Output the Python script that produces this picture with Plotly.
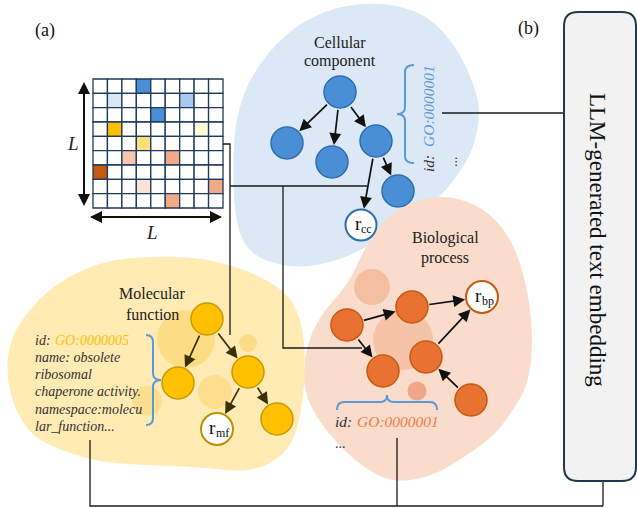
import plotly.graph_objects as go

# ---------------- data ----------------
GRID_N = 9
grid_colors = {  # (row, col): colour
    (0, 3): "#4A8FD6",
    (1, 1): "#DAE8F6", (1, 6): "#A8C8EC",
    (2, 4): "#4A8FD6",
    (3, 1): "#FFC000", (3, 7): "#FDFCD9",
    (4, 3): "#FFDF7A",
    (5, 2): "#F6C7AE", (5, 5): "#F1AA85",
    (6, 0): "#C55A11",
    (7, 3): "#FDE3D5", (7, 8): "#F1AA85",
    (8, 5): "#F1AA85",
}
grid_box = (93, 79, 223, 208)

blue_blob = [(330, 9), (363, 3), (397, 5), (430, 17), (457, 48), (473, 82), (481, 112),
             (473, 150), (457, 177), (437, 200), (410, 216), (388, 233), (362, 250),
             (333, 262), (300, 268), (266, 262), (243, 246), (234, 210), (233, 160),
             (236, 118), (248, 82), (270, 50), (297, 25)]
orange_blob = [(420, 198), (455, 196), (490, 212), (515, 245), (529, 295), (533, 345),
               (528, 385), (512, 412), (493, 437), (460, 460), (430, 477), (392, 483),
               (360, 465), (337, 443), (318, 420), (303, 390), (305, 350), (320, 315),
               (348, 285), (366, 245), (388, 215)]
yellow_blob = [(120, 258), (185, 256), (235, 265), (283, 288), (302, 318), (306, 370),
               (300, 420), (290, 448), (268, 466), (240, 472), (200, 467), (143, 465),
               (100, 462), (65, 452), (33, 437), (15, 410), (6, 375), (10, 340),
               (25, 315), (50, 288), (85, 268)]

# nodes: name -> (x, y, r)
cc_nodes = {"cc0": (340, 92, 16), "cc1": (287, 143, 16), "cc2": (332, 162, 16),
            "cc3": (376, 141, 16), "cc4": (398, 191, 16), "rcc": (361, 225, 15.5)}
mf_nodes = {"mf0": (207, 319, 16), "mf1": (178, 383, 16), "mf2": (248, 372, 16),
            "mf3": (277, 419, 16), "rmf": (217, 429, 16)}
bp_nodes = {"bpA": (347, 325, 16), "bpB": (412, 307, 16), "rbp": (482, 297, 16),
            "bpC": (426, 357, 16), "bpD": (383, 371, 16), "bpE": (471, 400, 16)}
cc_edges = [("cc0", "cc1"), ("cc0", "cc2"), ("cc0", "cc3"), ("cc3", "cc4"), ("cc3", "rcc")]
mf_edges = [("mf0", "mf1"), ("mf0", "mf2"), ("mf2", "rmf"), ("mf2", "mf3")]
bp_edges = [("bpA", "bpB"), ("bpB", "rbp"), ("bpA", "bpD"), ("bpC", "rbp"), ("bpE", "bpC")]

mf_bubbles = [(186, 339, 29, "#FDDC86"), (248, 343, 9, "#FDDC86"),
              (215, 392, 17, "#FDDE8E"), (147, 401, 15, "#FDDE8E")]
bp_bubbles = [(372, 287, 18, "#F4BEA2"), (403, 340, 30, "#F5C3A8"), (417, 391, 9.5, "#F0A788")]

mf_text_lines = ["name: obsolete", "ribosomal", "chaperone activity.", "namespace:molecu", "lar_function..."]
root_labels = {"rcc": ("cc", 17), "rmf": ("mf", 19.5), "rbp": ("bp", 18)}

SERIF = "Liberation Serif, Times New Roman, serif"

# ---------------- helpers ----------------
def smooth_path(pts):
    n = len(pts)
    mids = [((pts[i][0] + pts[(i + 1) % n][0]) / 2, (pts[i][1] + pts[(i + 1) % n][1]) / 2) for i in range(n)]
    d = f"M {mids[-1][0]},{mids[-1][1]}"
    for i in range(n):
        d += f" Q {pts[i][0]},{pts[i][1]} {mids[i][0]},{mids[i][1]}"
    return d + " Z"

shapes = []
annotations = []

def circle(x, y, r, fill, line_color=None, lw=1.5):
    shapes.append(dict(type="circle", xref="x", yref="y", x0=x - r, x1=x + r, y0=y - r, y1=y + r,
                       fillcolor=fill, line=dict(color=line_color or fill, width=lw if line_color else 0)))

def seg(pts, color="#1a1a1a", w=1.3):
    d = "M " + " L ".join(f"{x},{y}" for x, y in pts)
    shapes.append(dict(type="path", xref="x", yref="y", path=d, line=dict(color=color, width=w)))

def arrow(x, y, ax, ay, color, size=1.4, width=1.7, standoff=0, startstandoff=0):
    annotations.append(dict(x=x, y=y, ax=ax, ay=ay, xref="x", yref="y", axref="x", ayref="y",
                            text=" ", showarrow=True, arrowhead=2, arrowsize=size, arrowwidth=width,
                            arrowcolor=color, standoff=standoff, startstandoff=startstandoff,
                            font=dict(size=1)))

def arrows(nodes, edges, color):
    for a, b in edges:
        xa, ya, ra = nodes[a]
        xb, yb, rb = nodes[b]
        arrow(xb, yb, xa, ya, color, standoff=rb + 1, startstandoff=ra)

def text(x, y, s, size=16, color="#222", angle=0, xanchor="center", italic=False):
    if italic:
        s = f"<i>{s}</i>"
    annotations.append(dict(x=x, y=y, xref="x", yref="y", text=s, showarrow=False, textangle=angle,
                            xanchor=xanchor, yanchor="middle",
                            font=dict(family=SERIF, size=size, color=color)))

# ---------------- blobs ----------------
shapes.append(dict(type="path", xref="x", yref="y", path=smooth_path(blue_blob),
                   fillcolor="#DCE8F5", line=dict(width=0)))
shapes.append(dict(type="path", xref="x", yref="y", path=smooth_path(orange_blob),
                   fillcolor="#F9DCCB", line=dict(width=0)))
shapes.append(dict(type="path", xref="x", yref="y", path=smooth_path(yellow_blob),
                   fillcolor="#FFEBB3", line=dict(width=0)))

for x, y, r, c in mf_bubbles + bp_bubbles:
    circle(x, y, r, c)

# ---------------- grid ----------------
gx0, gy0, gx1, gy1 = grid_box
cw = (gx1 - gx0) / GRID_N
ch = (gy1 - gy0) / GRID_N
for i in range(GRID_N):
    for j in range(GRID_N):
        shapes.append(dict(type="rect", xref="x", yref="y",
                           x0=gx0 + j * cw, x1=gx0 + (j + 1) * cw, y0=gy0 + i * ch, y1=gy0 + (i + 1) * ch,
                           fillcolor=grid_colors.get((i, j), "#FFFFFF"),
                           line=dict(color="#1F3A5C", width=1.3)))

# L arrows (double headed)
arrow(84, 82, 84, 206, "#111", size=1.2, width=2)
arrow(84, 206, 84, 82, "#111", size=1.2, width=2)
arrow(90, 217, 222, 217, "#111", size=1.2, width=2)
arrow(222, 217, 90, 217, "#111", size=1.2, width=2)
text(73, 143, "L", size=19, italic=True)
text(152, 232, "L", size=19, italic=True)

# ---------------- connector lines ----------------
seg([(223, 144), (230, 144), (230, 335)])
seg([(230, 186), (367, 186)])
seg([(283, 186), (283, 348), (362, 348)])
seg([(442, 113), (564, 113)])
seg([(90, 440), (90, 506), (603, 506)])
seg([(397, 438), (397, 506)])
seg([(603, 481), (603, 506)])

# ---------------- braces ----------------
brace_col = "#5B9BD5"
shapes.append(dict(type="path", xref="x", yref="y", line=dict(color=brace_col, width=2),
                   path="M 146,335 Q 153,335 153,342 L 153,373 Q 153,380 161,380 Q 153,380 153,387 "
                        "L 153,418 Q 153,425 146,425"))
shapes.append(dict(type="path", xref="x", yref="y", line=dict(color=brace_col, width=2),
                   path="M 414,65 Q 405,65 405,72 L 405,107 Q 405,114 397,114 Q 405,114 405,121 "
                        "L 405,156 Q 405,163 414,163"))
shapes.append(dict(type="path", xref="x", yref="y", line=dict(color=brace_col, width=2),
                   path="M 337,410 Q 337,402 344,402 L 380,402 Q 387,402 387,395 Q 387,402 394,402 "
                        "L 430,402 Q 437,402 437,410"))

# ---------------- LLM box ----------------
bx0, by0, bx1, by1, br = 564, 12, 636, 481, 14
shapes.append(dict(type="path", xref="x", yref="y", fillcolor="#F2F2F2",
                   line=dict(color="#1F3A4A", width=2),
                   path=f"M {bx0+br},{by0} L {bx1-br},{by0} Q {bx1},{by0} {bx1},{by0+br} L {bx1},{by1-br} "
                        f"Q {bx1},{by1} {bx1-br},{by1} L {bx0+br},{by1} Q {bx0},{by1} {bx0},{by1-br} "
                        f"L {bx0},{by0+br} Q {bx0},{by0} {bx0+br},{by0} Z"))
text(598, 240, "LLM-generated text embedding", size=23, angle=90, color="#111")

# ---------------- nodes ----------------
for k, (x, y, r) in cc_nodes.items():
    if k.startswith("r"):
        circle(x, y, r, "#FFFFFF", "#2E6DB0", 2)
    else:
        circle(x, y, r, "#4A8FD6", "#2E6DB0", 1.5)
for k, (x, y, r) in mf_nodes.items():
    if k.startswith("r"):
        circle(x, y, r, "#FFFFFF", "#BF9000", 2)
    else:
        circle(x, y, r, "#FFC000", "#C99A06", 1.5)
for k, (x, y, r) in bp_nodes.items():
    if k.startswith("r"):
        circle(x, y, r, "#FFFFFF", "#C55A11", 2)
    else:
        circle(x, y, r, "#E97132", "#C55A11", 1.5)

arrows(cc_nodes, cc_edges, "#111111")
arrows(mf_nodes, mf_edges, "#3B3000")
arrows(bp_nodes, bp_edges, "#111111")

all_nodes = {**cc_nodes, **mf_nodes, **bp_nodes}
for key, (sub, wtot) in root_labels.items():
    cx, cy, _ = all_nodes[key]
    left = cx - wtot / 2
    text(left, cy - 2, "r", size=19, color="#111", xanchor="left")
    text(left + 6.5, cy + 4, sub, size=12, color="#111", xanchor="left")

# ---------------- labels ----------------
text(45, 30, "(a)", size=18, color="#111")
text(528, 28, "(b)", size=18, color="#111")
text(340, 42, "Cellular", size=16)
text(340, 61, "component", size=16)
text(152, 293, "Molecular", size=16)
text(152, 314, "function", size=16)
text(445, 238, "Biological", size=16)
text(445, 258, "process", size=16)

# molecular-function description
text(33, 340, "id:", size=14, color="#333", xanchor="left", italic=True)
text(53, 340, "GO:0000005", size=14, color="#FFC000", xanchor="left", italic=True)
for i, line in enumerate(mf_text_lines):
    text(33, 340 + (i + 1) * 17.3, line, size=14, color="#333", xanchor="left", italic=True)

# biological-process id
text(333, 421, "id:", size=15.5, color="#333", xanchor="left", italic=True)
text(355, 421, "GO:0000001", size=15.5, color="#F07C45", xanchor="left", italic=True)
text(333, 443, "...", size=14, color="#333", xanchor="left")

# cellular-component id (rotated)
text(428, 164, "id:", size=15.5, color="#333", angle=-90, italic=True)
text(428, 106, "GO:0000001", size=15.5, color="#5B9BD5", angle=-90, italic=True)
text(452, 162, "...", size=14, color="#333", angle=-90)

fig = go.Figure()
fig.update_layout(width=637, height=508, autosize=False, margin=dict(l=0, r=0, t=0, b=0),
                  paper_bgcolor="white", plot_bgcolor="white", showlegend=False,
                  font=dict(family=SERIF),
                  xaxis=dict(range=[0, 637], visible=False, fixedrange=True),
                  yaxis=dict(range=[508, 0], visible=False, fixedrange=True),
                  shapes=shapes, annotations=annotations)
fig.write_html("out.html", config={"displayModeBar": False},
               post_script="document.body.style.margin='0';document.body.style.overflow='hidden';")
